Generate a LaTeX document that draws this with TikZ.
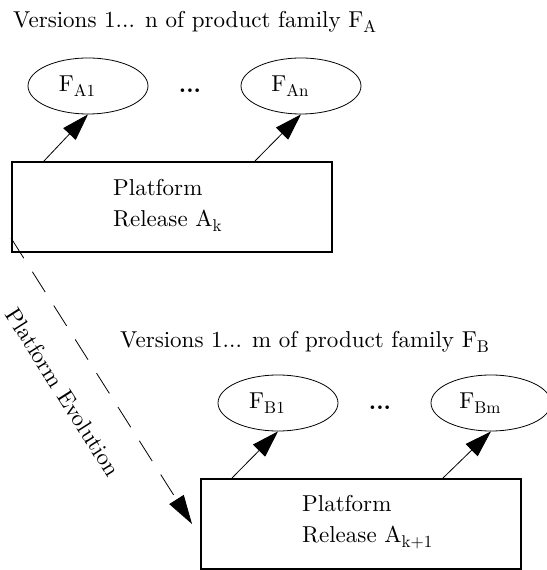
\documentclass[tikz,border=0pt]{standalone}
\usepackage{fontspec}
\setmainfont{lmroman10-regular}[Extension=.otf, BoldFont=lmroman10-bold]
\usetikzlibrary{shapes.geometric,arrows.meta}
\newcommand{\sbs}[1]{\raisebox{-5pt}{\fontsize{17}{17}\selectfont #1}}
\begin{document}
\begin{tikzpicture}[x=1pt,y=1pt,
  font=\fontsize{23}{31}\selectfont,
  fam/.style={ellipse, draw, line width=0.8pt, minimum width=120pt, minimum height=56pt, inner sep=0pt},
  plat/.style={draw, line width=2pt, minimum width=320pt, minimum height=90pt, inner sep=0pt},
  ptext/.style={anchor=west, align=left, inner sep=0pt},
  title/.style={anchor=base west, inner sep=0pt},
  arr/.style={-{Triangle[length=27pt,width=17pt]}, line width=0.8pt},
  darr/.style={-{Triangle[length=29pt,width=17pt]}, line width=0.8pt, dash pattern=on 24pt off 16pt}]
\useasboundingbox (0,0) rectangle (546,570);
% upper group
\node[title] (titleA) at (13,542) {Versions 1... n of product family F\sbs{A}};
\node[fam] (fa1) at (88,484) {F\sbs{A1}\hspace*{22pt}};
\node[fam] (fan) at (301,484) {F\sbs{An}\hspace*{22pt}};
\node (dotsA) at (190,479) {\textbf{...}};
\node[plat] (boxA) at (172,363) {};
\node[ptext] (txtA) at ([xshift=102pt,yshift=2pt]boxA.west) {Platform\\Release A\sbs{k}};
\draw[arr] ([xshift=33pt]boxA.north west) -- (fa1.south);
\draw[arr] ([xshift=244pt]boxA.north west) -- (fan.south);
% lower group
\node[title] (titleB) at (120,222) {Versions 1... m of product family F\sbs{B}};
\node[fam] (fb1) at (278,167) {F\sbs{B1}\hspace*{22pt}};
\node[fam] (fbm) at (491,167) {F\sbs{Bm}\hspace*{22pt}};
\node (dotsB) at (380,162) {\textbf{...}};
\node[plat] (boxB) at (361,46) {};
\node[ptext] (txtB) at ([xshift=102pt,yshift=2pt]boxB.west) {Platform\\Release A\sbs{k+1}};
\draw[arr] ([xshift=32pt]boxB.north west) -- (fb1.south);
\draw[arr] ([xshift=243pt]boxB.north west) -- (fbm.south);
% evolution
\draw[darr] ([yshift=-31pt]boxA.west) -- ([xshift=-8pt]boxB.west);
\node[rotate=-57.7] (evo) at (63,178) {Platform Evolution};
\end{tikzpicture}
\end{document}
